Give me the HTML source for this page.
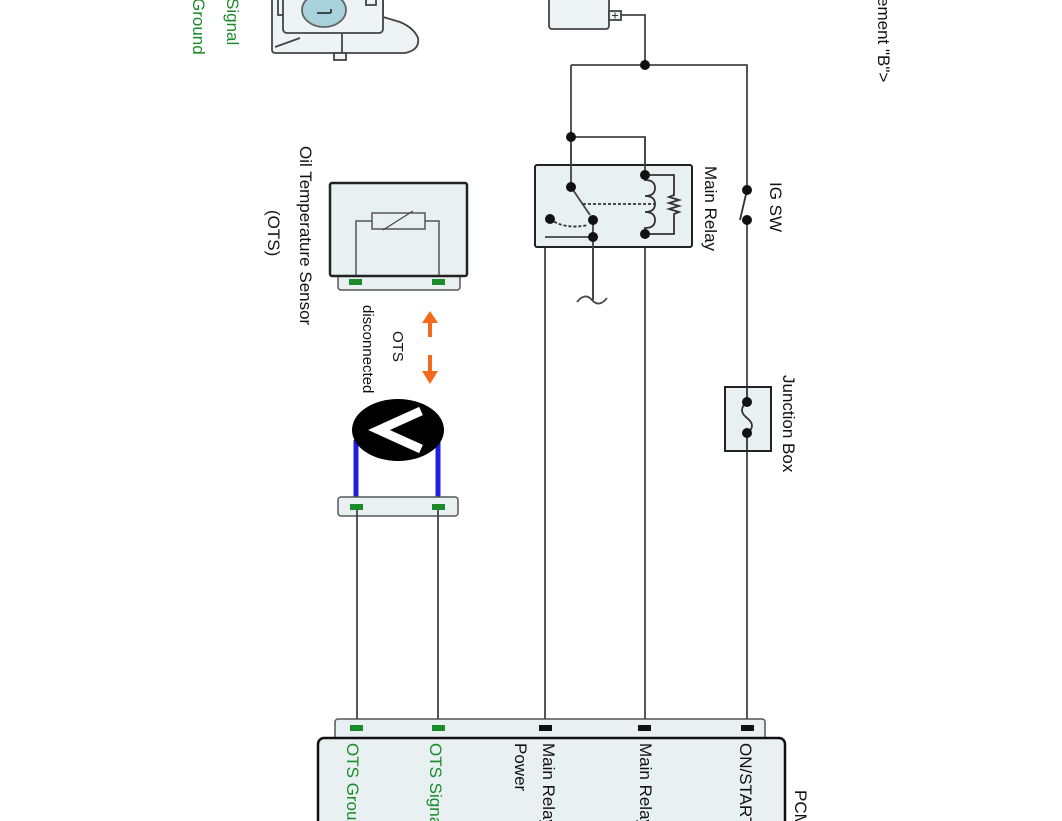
<!DOCTYPE html>
<html><head><meta charset="utf-8"><style>
html,body{margin:0;padding:0;background:#fff;width:1062px;height:821px;overflow:hidden}
svg{display:block}
text{font-family:"Liberation Sans",Arial,sans-serif}
</style></head><body>
<svg width="1062" height="821" viewBox="0 0 1062 821" xmlns="http://www.w3.org/2000/svg">
<g fill="none" stroke="#444" stroke-width="1.8">
<path d="M272,-5 V50 Q272,53 276,53 H405 Q420,50 418,38 Q414,28 400,22 L383,17 V-5" fill="#eef3f5"/>
<rect x="278" y="-5" width="8" height="20" fill="#eef3f5"/>
<rect x="283" y="-5" width="100" height="38" rx="4" fill="#eef3f5"/>
<rect x="366" y="-5" width="10" height="10" fill="#eef3f5"/>
<path d="M275,47 L300,38"/>
<path d="M342,33 V53"/>
<rect x="334" y="53" width="12" height="7" fill="#eef3f5"/>
<ellipse cx="324" cy="10" rx="22" ry="17" fill="#a9d3dc" stroke="#666"/>
<path d="M317,13 H331 M331,9 V13" stroke="#333"/>

<rect x="549" y="-5" width="60" height="34" rx="3" fill="#eef3f5"/>
<rect x="609" y="11" width="12" height="9" fill="#eef3f5"/>
<path d="M612,15.5h6M615,12.5v6" stroke="#333" stroke-width="1"/>
<path d="M621,15 H645 V65"/>
<path d="M571,65 H747 V190"/>
<path d="M571,65 V187"/>
<path d="M571,137 H645 V175"/>
<path d="M747,220 V728"/>
<path d="M645,234 V728"/>
<path d="M593,237 H545 V728"/>
<path d="M593,237 V300"/>
<path d="M577,302 q8,-10 15,-2 q7,8 15,-2"/>
<rect x="535" y="165" width="157" height="82" rx="2" fill="#e8f0f2" stroke="#222" stroke-width="2"/>
<path d="M571,137 V187 L590,215"/>
<path d="M645,137 V175"/>
<path d="M593,237 H545"/>
<path d="M593,220 V300"/>
<path d="M583,204 H655" stroke-dasharray="3,2" stroke="#333"/>
<path d="M550,219 Q565,230 588,225" stroke-dasharray="3,2" stroke="#333"/>
<path d="M645,175 V180 q10,0 10,8 q0,8 -10,8 q10,0 10,8 q0,8 -10,8 q10,0 10,8 q0,8 -10,8 V234" stroke="#333"/>
<path d="M645,175 H674 V195 l-5,2 l10,3 l-10,3 l10,3 l-10,3 l10,3 l-5,2 V234 H645" stroke="#333"/>
<path d="M747,190 L740,220" stroke="#333"/>
<rect x="725" y="387" width="46" height="64" fill="#e8f0f2" stroke="#222" stroke-width="2"/>
<path d="M747,387 V402 q-10,8 0,16 q10,8 0,15 V451" stroke="#333"/>
</g>
<g fill="#111">
<circle cx="645" cy="65" r="5"/>
<circle cx="571" cy="137" r="5"/>
<circle cx="571" cy="187" r="5"/>
<circle cx="593" cy="220" r="5"/>
<circle cx="593" cy="237" r="5"/>
<circle cx="550" cy="219" r="5"/>
<circle cx="645" cy="175" r="5"/>
<circle cx="645" cy="234" r="5"/>
<circle cx="747" cy="190" r="5"/>
<circle cx="747" cy="220" r="5"/>
<circle cx="747" cy="402" r="5"/>
<circle cx="747" cy="433" r="5"/>
</g>

<rect x="338" y="272" width="122" height="18" rx="3" fill="#e8f0f2" stroke="#555" stroke-width="1.5"/>
<rect x="330" y="183" width="137" height="93" rx="2" fill="#e8f0f2" stroke="#222" stroke-width="2.5"/>
<path d="M356,275 V221 H372 M425,221 H439 V275" fill="none" stroke="#555" stroke-width="1.5"/>
<rect x="372" y="213" width="53" height="16" fill="#e8f0f2" stroke="#555" stroke-width="1.5"/>
<path d="M383,230 L413,211" stroke="#444" stroke-width="1.2"/>
<rect x="349" y="279" width="13" height="6" fill="#1a8a2a"/>
<rect x="432" y="279" width="13" height="6" fill="#1a8a2a"/>

<path d="M430,337 V322" stroke="#f26a1b" stroke-width="4"/>
<polygon points="422,323 438,323 430,311" fill="#f26a1b"/>
<path d="M430,355 V372" stroke="#f26a1b" stroke-width="4"/>
<polygon points="422,371 438,371 430,384" fill="#f26a1b"/>

<path d="M356,440 V505 M438,440 V505" stroke="#1f1fe0" stroke-width="5"/>
<ellipse cx="398" cy="430" rx="46" ry="31" fill="#000"/>
<path d="M421,411 L379,430 L421,449" fill="none" stroke="#fff" stroke-width="9" stroke-linejoin="miter"/>
<rect x="338" y="497" width="120" height="19" rx="3" fill="#e8f0f2" stroke="#555" stroke-width="1.5"/>
<rect x="350" y="504" width="13" height="6" fill="#1a8a2a"/>
<rect x="432" y="504" width="13" height="6" fill="#1a8a2a"/>
<path d="M357,510 V728 M438,510 V728" stroke="#444" stroke-width="1.8"/>

<rect x="335" y="719" width="430" height="28" rx="3" fill="#e8f0f2" stroke="#555" stroke-width="1.5"/>
<rect x="318" y="738" width="467" height="100" rx="6" fill="#e8f0f2" stroke="#111" stroke-width="2.5"/>
<rect x="350" y="725" width="13" height="6" fill="#1a8a2a"/>
<rect x="432" y="725" width="13" height="6" fill="#1a8a2a"/>
<rect x="539" y="725" width="13" height="6" fill="#111"/>
<rect x="638" y="725" width="13" height="6" fill="#111"/>
<rect x="741" y="725" width="13" height="6" fill="#111"/>

<g font-size="17" fill="#111">
<text transform="translate(347,743) rotate(90)" fill="#1a8a2a">OTS Ground</text>
<text transform="translate(430,743) rotate(90)" fill="#1a8a2a">OTS Signal</text>
<text transform="translate(543,743) rotate(90)">Main Relay</text>
<text transform="translate(515,743) rotate(90)">Power</text>
<text transform="translate(640,743) rotate(90)">Main Relay</text>
<text transform="translate(740,743) rotate(90)">ON/START</text>
<text transform="translate(795,790) rotate(90)">PCM</text>
<text transform="translate(705,166) rotate(90)">Main Relay</text>
<text transform="translate(770,182) rotate(90)">IG SW</text>
<text transform="translate(783,375) rotate(90)">Junction Box</text>
<text transform="translate(300,146) rotate(90)">Oil Temperature Sensor</text>
<text transform="translate(268,210) rotate(90)">(OTS)</text>
<text transform="translate(878,-3) rotate(90)">ement "B"&gt;</text>
<text transform="translate(227,-2) rotate(90)" fill="#1a8a2a">Signal</text>
<text transform="translate(193,-2) rotate(90)" fill="#1a8a2a">Ground</text>
</g>
<g font-size="15" fill="#111">
<text transform="translate(393,331) rotate(90)">OTS</text>
<text transform="translate(363,305) rotate(90)">disconnected</text>
</g>
</svg>
</body></html>
